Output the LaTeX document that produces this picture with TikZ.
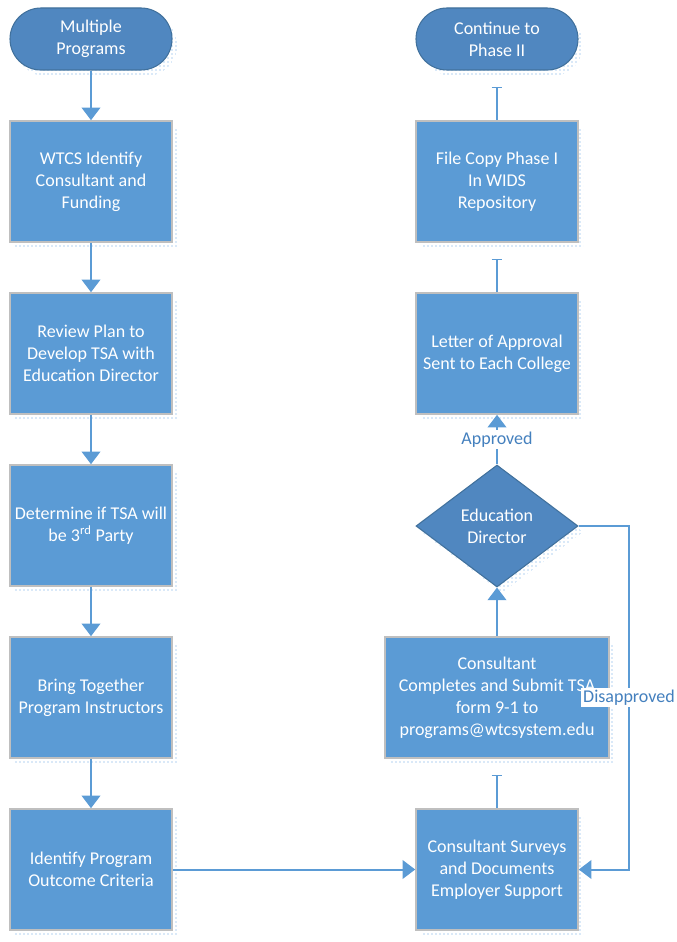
\documentclass[tikz,border=0pt]{standalone}
\usepackage{fontspec}
\setmainfont{Carlito}
\usetikzlibrary{arrows.meta,shadows,patterns,shapes.geometric}

\definecolor{boxblue}{RGB}{91,155,213}
\definecolor{termblue}{RGB}{80,135,192}
\definecolor{termedge}{RGB}{65,113,156}
\definecolor{boxedge}{RGB}{191,191,191}
\definecolor{lineblue}{RGB}{91,155,213}
\definecolor{labelblue}{RGB}{68,128,190}
\definecolor{dotblue}{RGB}{95,160,225}

\newcommand{\flowfont}{\fontsize{13.5}{16.5}\selectfont}

\tikzset{
  dotshadow/.style={general shadow={shadow xshift=4pt, shadow yshift=-4.5pt, pattern=dots, pattern color=dotblue}},
  procbox/.style={draw=boxedge, line width=1.2pt, fill=boxblue, text=white, font=\flowfont, align=center, minimum width=121.5pt, minimum height=90.75pt, inner sep=2pt, dotshadow},
  termbox/.style={draw=termedge, line width=0.8pt, fill=termblue, text=white, font=\flowfont, align=center, rounded corners=23.25pt, minimum width=121.5pt, minimum height=46.5pt, dotshadow},
  decisionbox/.style={diamond, aspect=1.33, draw=termedge, line width=0.8pt, fill=termblue, text=white, font=\flowfont, align=center, minimum width=121.5pt, minimum height=91.5pt, inner sep=0pt, dotshadow},
  flowline/.style={draw=lineblue, line width=1.5pt},
  flowarrow/.style={flowline, -{Triangle[width=14pt,length=9.5pt]}},
  barline/.style={flowline, -{Bar[width=8pt,line width=1pt]}},
  edgelabel/.style={fill=white, text=labelblue, font=\flowfont, inner sep=1.5pt},
}

\begin{document}
\begin{tikzpicture}[x=0.75pt, y=-0.75pt]
  \useasboundingbox (0,0) rectangle (677,942);

  % left column
  \node[termbox] (multiple) at (91,39) {Multiple\\Programs};
  \node[procbox] (identify) at (91,181.5) {WTCS Identify\\Consultant and\\Funding};
  \node[procbox] (review) at (91,353.5) {Review Plan to\\Develop TSA with\\Education Director};
  \node[procbox] (thirdparty) at (91,525.5) {Determine if TSA will\\be 3\textsuperscript{rd} Party};
  \node[procbox] (instructors) at (91,697.5) {Bring Together\\Program Instructors};
  \node[procbox] (criteria) at (91,869.5) {Identify Program\\Outcome Criteria};

  % right column
  \node[termbox] (phasetwo) at (497,39) {Continue to\\Phase II};
  \node[procbox] (filecopy) at (497,181.5) {File Copy Phase I\\In WIDS\\Repository};
  \node[procbox] (letter) at (497,353.5) {Letter of Approval\\Sent to Each College};
  \node[decisionbox] (director) at (497,526) {Education\\Director};
  \node[procbox, minimum width=168pt] (completes) at (497,697.5) {Consultant\\Completes and Submit TSA\\form 9-1 to\\programs@wtcsystem.edu};
  \node[procbox] (surveys) at (497,869.5) {Consultant Surveys\\and Documents\\Employer Support};

  \coordinate (loopcorner) at (629,526);

  \draw[flowarrow] (multiple) -- (identify);
  \draw[flowarrow] (identify) -- (review);
  \draw[flowarrow] (review) -- (thirdparty);
  \draw[flowarrow] (thirdparty) -- (instructors);
  \draw[flowarrow] (instructors) -- (criteria);
  \draw[flowarrow] (criteria) -- (surveys);
  \draw[barline] (surveys) -- ([yshift=-12pt]completes.south);
  \draw[flowarrow] (completes) -- (director);
  \draw[flowarrow] (director) -- node[edgelabel] {Approved} (letter);
  \draw[barline] (letter) -- ([yshift=-12pt]filecopy.south);
  \draw[barline] (filecopy) -- ([yshift=-12pt]phasetwo.south);
  \draw[flowarrow] (director.east) -- (loopcorner) |- node[edgelabel, pos=0.25] {Disapproved} (surveys.east);
\end{tikzpicture}
\end{document}
